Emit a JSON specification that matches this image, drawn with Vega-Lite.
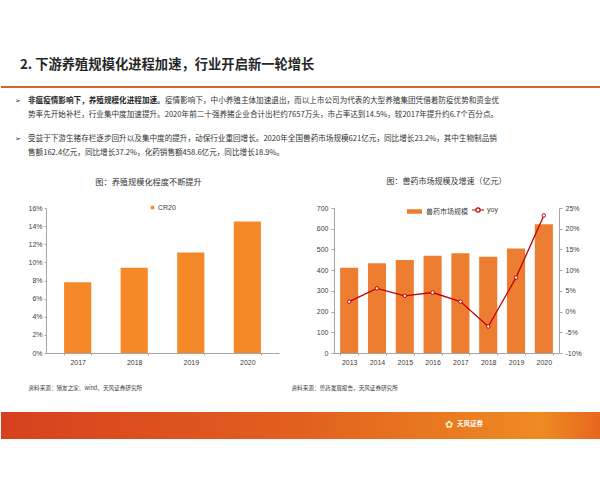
{
  "$schema": "https://vega.github.io/schema/vega-lite/v6.json",
  "background": "white",
  "padding": 0,
  "spacing": 0,
  "bounds": "flush",
  "config": {
    "view": {"stroke": null},
    "font": "Noto Sans CJK SC",
    "axis": {"labelFont": "Liberation Sans", "labelFontSize": 7, "labelColor": "#404040", "domainColor": "#A6A6A6", "tickColor": "#A6A6A6", "tickSize": 3, "grid": false, "titleFont": "Noto Sans CJK SC", "titleFontSize": 5.6, "titleFontWeight": "normal", "titleColor": "#404040"},
    "legend": {"labelFont": "Noto Sans CJK SC", "labelFontSize": 7, "labelColor": "#404040"},
    "title": {"font": "Noto Sans CJK SC", "fontWeight": "normal", "color": "#333333"}
  },
  "vconcat": [
    {
      "width": 600, "height": 208,
      "data": {"values": [{}]},
      "layer": [
        {"mark": {"type": "text", "text": "2. 下游养殖规模化进程加速，行业开启新一轮增长", "align": "left", "baseline": "middle", "fontSize": 13.3, "fontWeight": "bold", "color": "#262626"}, "encoding": {"x": {"value": 19}, "y": {"value": 65}}},
        {"mark": {"type": "rule", "color": "#D2642C", "strokeWidth": 2}, "encoding": {"x": {"value": 0}, "x2": {"value": 600}, "y": {"value": 87}}},
        {"mark": {"type": "text", "text": "➢", "font": "DejaVu Sans", "fontSize": 7, "align": "left", "baseline": "middle", "color": "#333333"}, "encoding": {"x": {"value": 14}, "y": {"value": 101}}},
        {"mark": {"type": "text", "text": "➢", "font": "DejaVu Sans", "fontSize": 7, "align": "left", "baseline": "middle", "color": "#333333"}, "encoding": {"x": {"value": 14}, "y": {"value": 139}}},
        {"mark": {"type": "text", "text": "非瘟疫情影响下，养殖规模化进程加速。", "fontWeight": "bold", "fontSize": 7.6, "align": "left", "baseline": "middle", "color": "#262626"}, "encoding": {"x": {"value": 27}, "y": {"value": 101}}},
        {"mark": {"type": "text", "text": "疫情影响下，中小养殖主体加速退出，而以上市公司为代表的大型养殖集团凭借着防疫优势和资金优", "fontSize": 7.6, "align": "left", "baseline": "middle", "color": "#333333"}, "encoding": {"x": {"value": 164}, "y": {"value": 101}}},
        {"mark": {"type": "text", "text": "势率先开始补栏，行业集中度加速提升。2020年前二十强养猪企业合计出栏约7657万头，市占率达到14.5%，较2017年提升约6.7个百分点。", "fontSize": 7.6, "align": "left", "baseline": "middle", "color": "#333333"}, "encoding": {"x": {"value": 27}, "y": {"value": 115}}},
        {"mark": {"type": "text", "text": "受益于下游生猪存栏逐步回升以及集中度的提升，动保行业重回增长。2020年全国兽药市场规模621亿元，同比增长23.2%，其中生物制品销", "fontSize": 7.6, "align": "left", "baseline": "middle", "color": "#333333"}, "encoding": {"x": {"value": 27}, "y": {"value": 139}}},
        {"mark": {"type": "text", "text": "售额162.4亿元，同比增长37.2%，化药销售额458.6亿元，同比增长18.9%。", "fontSize": 7.6, "align": "left", "baseline": "middle", "color": "#333333"}, "encoding": {"x": {"value": 27}, "y": {"value": 153}}}
      ]
    },
    {
      "spacing": 0,
      "bounds": "flush",
      "resolve": {"scale": {"fill": "independent", "stroke": "independent"}, "legend": {"fill": "independent", "stroke": "independent"}},
      "hconcat": [
        {"width": 45, "height": 145, "data": {"values": [{}]}, "mark": {"type": "text", "text": ""}, "encoding": {}},
        {
          "width": 233, "height": 145,
          "title": {"text": "图：养殖规模化程度不断提升", "fontSize": 8.2, "offset": 17, "dx": -14, "frame": "group", "anchor": "middle"},
          "data": {"values": [
            {"year": "2017", "cr20": 0.078},
            {"year": "2018", "cr20": 0.094},
            {"year": "2019", "cr20": 0.111},
            {"year": "2020", "cr20": 0.145}
          ]},
          "mark": {"type": "bar"},
          "encoding": {
            "x": {"field": "year", "type": "ordinal", "scale": {"paddingInner": 0.52, "paddingOuter": 0.32},
              "axis": {"labelAngle": 0, "tickBand": "extent", "tickSize": 2, "labelPadding": 3, "title": "资料来源：猪友之家、wind，天风证券研究所", "titleX": -18, "titleY": 34, "titleAlign": "left", "titleAnchor": "start", "titleBaseline": "middle"}},
            "y": {"field": "cr20", "type": "quantitative", "scale": {"domain": [0, 0.16]},
              "axis": {"values": [0, 0.02, 0.04, 0.06, 0.08, 0.1, 0.12, 0.14, 0.16], "format": ".0%", "title": null, "tickSize": 2, "labelPadding": 2}},
            "fill": {"datum": "CR20", "type": "nominal", "scale": {"range": ["#F5892A"]},
              "legend": {"orient": "none", "legendX": 103, "legendY": -4, "title": null, "symbolType": "square", "symbolSize": 12, "padding": 0, "labelOffset": 2, "labelFont": "Liberation Sans"}}
          }
        },
        {"width": 55, "height": 145, "data": {"values": [{}]}, "mark": {"type": "text", "text": ""}, "encoding": {}},
        {
          "width": 225, "height": 145,
          "title": {"text": "图：兽药市场规模及增速（亿元）", "fontSize": 8, "offset": 17, "frame": "group", "anchor": "middle"},
          "data": {"values": [
            {"year": "2013", "size": 411, "yoy": 0.024},
            {"year": "2014", "size": 433, "yoy": 0.056},
            {"year": "2015", "size": 449, "yoy": 0.038},
            {"year": "2016", "size": 470, "yoy": 0.046},
            {"year": "2017", "size": 481, "yoy": 0.024},
            {"year": "2018", "size": 465, "yoy": -0.036},
            {"year": "2019", "size": 504, "yoy": 0.082},
            {"year": "2020", "size": 621, "yoy": 0.232}
          ]},
          "encoding": {
            "x": {"field": "year", "type": "ordinal", "scale": {"paddingInner": 0.35, "paddingOuter": 0.22},
              "axis": {"labelAngle": 0, "tickBand": "extent", "tickSize": 2, "labelPadding": 3, "title": "资料来源：兽药发展报告，天风证券研究所", "titleX": -43, "titleY": 34, "titleAlign": "left", "titleAnchor": "start", "titleBaseline": "middle"}}
          },
          "layer": [
            {
              "mark": {"type": "bar"},
              "encoding": {
                "y": {"field": "size", "type": "quantitative", "scale": {"domain": [0, 700]},
                  "axis": {"orient": "left", "values": [0, 100, 200, 300, 400, 500, 600, 700], "title": null, "labelPadding": 3}},
                "fill": {"datum": "兽药市场规模", "type": "nominal", "scale": {"range": ["#ED7D31"]},
                  "legend": {"orient": "none", "legendX": 72, "legendY": -5, "title": null, "symbolType": "M-1,-0.3H1V0.3H-1Z", "symbolSize": 225, "padding": 0, "labelOffset": 3}}
              }
            },
            {
              "mark": {"type": "line", "strokeWidth": 1.3, "point": {"filled": false, "fill": "white", "size": 12, "strokeWidth": 1}},
              "encoding": {
                "y": {"field": "yoy", "type": "quantitative", "scale": {"domain": [-0.1, 0.25]},
                  "axis": {"orient": "right", "values": [-0.1, -0.05, 0, 0.05, 0.1, 0.15, 0.2, 0.25], "labelExpr": "replace(format(datum.value, '.0%'), '−', '-')", "title": null, "labelPadding": 3}},
                "stroke": {"datum": "yoy", "type": "nominal", "scale": {"range": ["#C00000"]},
                  "legend": {"orient": "none", "legendX": 137, "legendY": -5, "title": null, "symbolType": "M-1,0H-0.35M0.35,0H1M-0.35,0A0.35,0.35,0,1,1,0.35,0A0.35,0.35,0,1,1,-0.35,0", "symbolSize": 144, "symbolStrokeWidth": 1.2, "symbolFillColor": "white", "padding": 0, "labelOffset": 2, "labelFont": "Liberation Sans"}}
              }
            }
          ],
          "resolve": {"scale": {"y": "independent"}}
        }
      ]
    },
    {"width": 600, "height": 204, "data": {"values": [{}]}, "mark": {"type": "text", "text": ""}, "encoding": {}},
    {
      "width": 600, "height": 27,
      "data": {"values": [{}]},
      "layer": [
        {"mark": {"type": "rect", "fill": {"gradient": "linear", "x1": 0, "x2": 1, "y1": 0, "y2": 0, "stops": [{"offset": 0, "color": "#D6401F"}, {"offset": 0.5, "color": "#E2601E"}, {"offset": 0.9, "color": "#EF8B22"}, {"offset": 1, "color": "#E8661E"}]}}, "encoding": {}},
        {"mark": {"type": "text", "text": "✿", "font": "DejaVu Sans", "fontSize": 10, "color": "#FFF3C8", "align": "left", "baseline": "middle"}, "encoding": {"x": {"value": 444}, "y": {"value": 13}}},
        {"mark": {"type": "text", "text": "天风证券", "fontSize": 6.5, "fontWeight": "bold", "color": "white", "align": "left", "baseline": "middle"}, "encoding": {"x": {"value": 456}, "y": {"value": 12}}}
      ]
    }
  ]
}
